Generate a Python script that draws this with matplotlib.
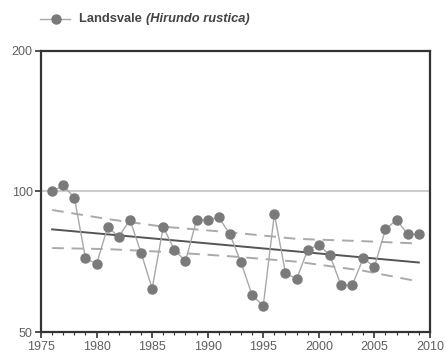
import matplotlib
matplotlib.use("Agg")
import matplotlib.pyplot as plt
from matplotlib.lines import Line2D
from matplotlib.ticker import FixedLocator, NullLocator, MultipleLocator

plt.rcParams['font.family'] = ['Liberation Sans', 'DejaVu Sans']

years = list(range(1976, 2010))
index = [100, 103, 97, 72, 70, 84, 80, 87, 74, 62, 84, 75, 71, 87, 87, 88, 81,
         70.5, 60, 57, 89.5, 67, 65, 75, 77, 73, 63, 63, 72, 69, 83, 87, 81, 81]

trend_years = [1976, 2009]
trend_vals = [83.0, 70.5]

band_years = [1976, 1981, 1986, 1992, 1998, 2004, 2009]
band_upper = [91.3, 87.3, 84.1, 81.8, 79.2, 78.3, 77.4]
band_lower = [75.7, 75.3, 74.3, 72.7, 70.8, 67.7, 64.2]

ref_level = 100
y_ticks = [50, 100, 200]
x_ticks = [1975, 1980, 1985, 1990, 1995, 2000, 2005, 2010]
legend_name = "Landsvale "
legend_latin = "(Hirundo rustica)"

fig = plt.figure(figsize=(4.46, 3.56), dpi=100)
ax = fig.add_axes([0.092, 0.0666, 0.872, 0.791])

ax.set_yscale('log')
ax.set_xlim(1975, 2010)
ax.set_ylim(50, 200)

ax.axhline(ref_level, color='#cccccc', lw=1.5, zorder=1)
ax.plot(band_years, band_upper, color='#aaaaaa', lw=1.4, ls=(0, (6, 4)), zorder=2)
ax.plot(band_years, band_lower, color='#aaaaaa', lw=1.4, ls=(0, (6, 4)), zorder=2)
ax.plot(trend_years, trend_vals, color='#555555', lw=1.4, zorder=3)
ax.plot(years, index, color='#a8a8a8', lw=1.0, marker='o', markersize=6.5,
        markerfacecolor='#7a7a7a', markeredgecolor='#7a7a7a', zorder=4)

ax.yaxis.set_major_locator(FixedLocator(y_ticks))
ax.yaxis.set_minor_locator(NullLocator())
ax.set_yticklabels([str(v) for v in y_ticks])
ax.xaxis.set_major_locator(FixedLocator(x_ticks))
ax.xaxis.set_minor_locator(MultipleLocator(1))

for s in ax.spines.values():
    s.set_color('#333333')
    s.set_linewidth(1.6)

ax.tick_params(axis='both', which='major', direction='out', length=4, width=1.2,
               color='#333333', labelsize=9, labelcolor='#606060', pad=2)
ax.tick_params(axis='x', which='minor', direction='out', length=2.5, width=0.8,
               color='#333333')

# legend
fig.add_artist(Line2D([40 / 446, 70 / 446], [1 - 19 / 356, 1 - 19 / 356],
                      transform=fig.transFigure, color='#a8a8a8', lw=1.0,
                      marker=None))
fig.add_artist(Line2D([56 / 446], [1 - 19 / 356], transform=fig.transFigure,
                      color='#7a7a7a', marker='o', markersize=6.5, lw=0))
t1 = fig.text(79 / 446, 1 - 19 / 356, legend_name, fontsize=9.3, fontweight='bold',
              color='#444444', va='center', ha='left')
fig.canvas.draw()
bb = t1.get_window_extent()
x2 = fig.transFigure.inverted().transform((bb.x1, bb.y0))[0]
fig.text(x2, 1 - 19 / 356, legend_latin, fontsize=9.3, fontweight='bold',
         fontstyle='italic', color='#444444', va='center', ha='left')

fig.savefig('out.png', dpi=100)
